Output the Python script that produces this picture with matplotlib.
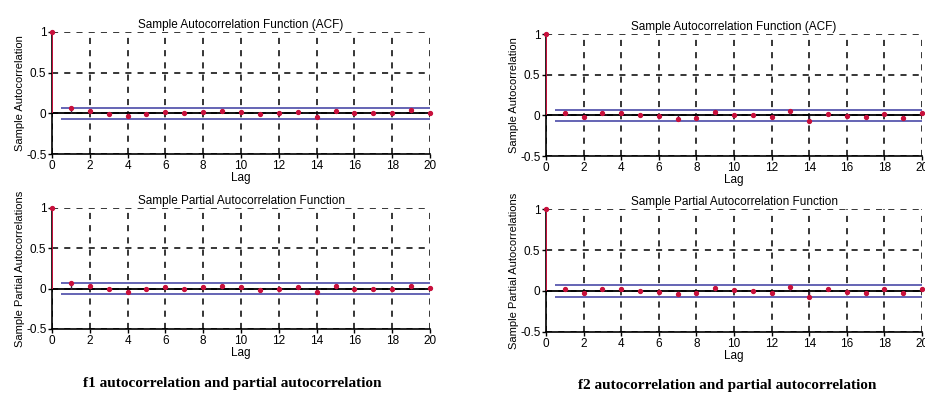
"""
ACF / PACF stem plots for f1 and f2, MATLAB autocorr style.
"""

import numpy as np
import matplotlib
matplotlib.use("Agg")
import matplotlib.pyplot as plt

plt.rcParams['font.family'] = ['Liberation Sans', 'DejaVu Sans']

LAGS = list(range(0, 21))
BOUND = 0.07

# f1
f1_acf = [1.0, 0.07, 0.03, -0.01, -0.03, -0.01, 0.02, 0.01, 0.02, 0.03, 0.02,
          -0.01, 0.0, 0.02, -0.04, 0.03, 0.01, 0.01, 0.0, 0.04, 0.01]
f1_pacf = [1.0, 0.07, 0.03, -0.01, -0.04, -0.01, 0.02, 0.0, 0.02, 0.03, 0.02,
           -0.02, 0.0, 0.02, -0.04, 0.03, 0.0, 0.0, 0.0, 0.03, 0.01]
# f2
f2_acf = [1.0, 0.03, -0.02, 0.03, 0.03, 0.0, -0.01, -0.04, -0.03, 0.04, 0.01,
          0.0, -0.02, 0.05, -0.07, 0.02, -0.01, -0.02, 0.02, -0.03, 0.03]
f2_pacf = [1.0, 0.03, -0.02, 0.03, 0.02, 0.0, -0.01, -0.04, -0.03, 0.04, 0.01,
           0.0, -0.02, 0.05, -0.07, 0.02, -0.01, -0.02, 0.02, -0.03, 0.03]

TITLES = ["Sample Autocorrelation Function (ACF)",
          "Sample Partial Autocorrelation Function"]
YLABELS = ["Sample Autocorrelation", "Sample Partial Autocorrelations"]
CAPTIONS = ["f1 autocorrelation and partial autocorrelation",
            "f2 autocorrelation and partial autocorrelation"]

RED = "#c8103c"
BLUE = "#4a4aa8"


def stem_panel(ax, vals, title, ylabel):
    lags = np.array(LAGS)
    vals = np.array(vals)
    ax.set_xlim(0, 20)
    ax.set_ylim(-0.5, 1)
    ax.set_xticks(range(0, 21, 2))
    ax.set_yticks([-0.5, 0, 0.5, 1])
    ax.set_yticklabels(["-0.5", "0", "0.5", "1"])
    ax.grid(True, color="black", linestyle=(0, (4, 4)), linewidth=1.1)
    for s in ["top", "right"]:
        ax.spines[s].set_visible(False)
    for s in ["left", "bottom"]:
        ax.spines[s].set_linewidth(1.2)
    ax.tick_params(length=3, width=1, labelsize=8.5, pad=1)
    ax.axhline(0, color="black", lw=1.3, zorder=3)
    ax.vlines(lags[1:], 0, vals[1:], color="#402040", lw=1.0, zorder=4)
    ax.vlines(lags[0], 0, vals[0], color=RED, lw=1.4, zorder=4)
    ax.plot(lags, vals, "o", color=RED, ms=2.8, zorder=5, clip_on=False)
    ax.hlines([BOUND, -BOUND], 0.5, 20, color=BLUE, lw=1.2, zorder=4)
    ax.set_title(title, fontsize=8.5, pad=3)
    ax.set_xlabel("Lag", fontsize=8.5, labelpad=0)
    ax.set_ylabel(ylabel, fontsize=8, labelpad=1)


fig = plt.figure(figsize=(9.25, 3.94), dpi=100)

boxes = {
    "l_top": [0.0562, 0.6091, 0.4087, 0.3097],
    "l_bot": [0.0562, 0.1650, 0.4087, 0.3071],
    "r_top": [0.5903, 0.6040, 0.4065, 0.3097],
    "r_bot": [0.5903, 0.1574, 0.4065, 0.3121],
}

stem_panel(fig.add_axes(boxes["l_top"]), f1_acf, TITLES[0], YLABELS[0])
stem_panel(fig.add_axes(boxes["l_bot"]), f1_pacf, TITLES[1], YLABELS[1])
stem_panel(fig.add_axes(boxes["r_top"]), f2_acf, TITLES[0], YLABELS[0])
stem_panel(fig.add_axes(boxes["r_bot"]), f2_pacf, TITLES[1], YLABELS[1])

fig.text(232 / 925, 1 - 383 / 394, CAPTIONS[0], ha="center", va="center",
         fontsize=11, fontweight="bold", family="Liberation Serif")
fig.text(727 / 925, 1 - 386 / 394, CAPTIONS[1], ha="center", va="center",
         fontsize=11, fontweight="bold", family="Liberation Serif")

fig.savefig("out.png", dpi=100)
